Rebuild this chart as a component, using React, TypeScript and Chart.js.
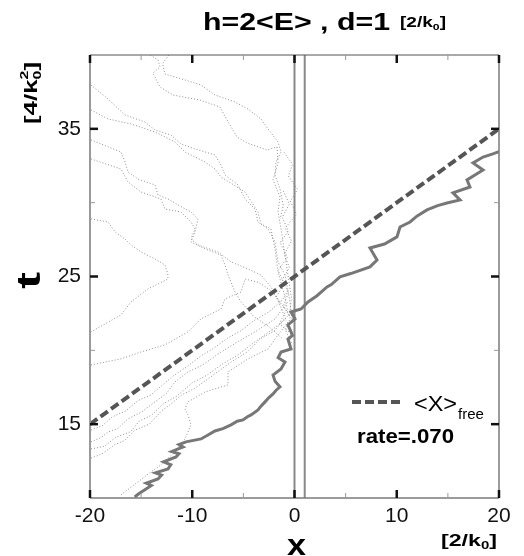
import React, { useEffect, useRef } from "react";
import { Chart, registerables } from "chart.js";

Chart.register(...registerables);

// ---------- data ----------
const xRange = [-20, 20];
const tRange = [10, 40];
const xMinorTicks = [-15, -5, 5, 15];
const tTicks = [15, 25, 35];
const tMinorTicks = [20, 30];

// free mean position <x>_free
const freeX = [-20, 20];
const freeT = [15, 35];
const rateLabel = "rate=.070";

// barrier walls, d = 1
const barrierX = [0, 1];

// mean trajectory (solid grey)
const pathX = [-15.63, -15.2, -14.52, -14.0, -14.5, -13.35, -13.0, -13.6, -12.37, -12.1, -12.8, -11.59, -11.3, -12.0, -10.9, -11.3, -10.61, -9.14, -8.46, -7.78, -7.0, -6.21, -5.6, -5.04, -4.6, -4.25, -3.57, -3.3, -2.88, -2.5, -2.1, -1.8, -1.42, -1.9, -2.1, -1.32, -0.93, -1.6, -1.32, -0.34, -0.64, -0.2, -0.34, -0.64, 0.05, -0.34, 0.64, 1.32, 2.2, 3.18, 3.6, 4.45, 5.5, 7.38, 8.07, 7.38, 8.8, 10.02, 10.32, 11.3, 12.0, 12.96, 14.0, 14.91, 16.19, 15.5, 17.16, 16.87, 18.44, 17.46, 18.44, 19.4, 20.0];
const pathT = [10.07, 10.3, 10.61, 10.85, 11.0, 11.29, 11.55, 11.7, 11.97, 12.25, 12.45, 12.78, 13.0, 13.15, 13.46, 13.62, 13.8, 14.0, 14.27, 14.54, 14.7, 14.95, 15.2, 15.29, 15.5, 15.63, 15.96, 16.2, 16.51, 16.8, 17.05, 17.3, 17.52, 17.9, 18.33, 18.74, 19.21, 19.5, 19.89, 20.09, 20.77, 21.0, 21.25, 21.72, 22.13, 22.6, 22.8, 23.28, 23.7, 24.29, 24.45, 24.97, 25.2, 25.65, 26.12, 26.93, 27.2, 27.68, 28.35, 28.69, 29.1, 29.51, 29.8, 29.98, 30.18, 30.66, 31.06, 31.54, 32.21, 32.69, 33.09, 33.3, 33.45];

// individual trajectories (dotted), [x, t]
const walkTopA = [[-14.1, 40.0], [-13.35, 39.66], [-13.15, 39.19], [-13.84, 38.78], [-13.15, 37.83], [-11.88, 37.29], [-9.24, 36.95], [-7.29, 36.48], [-6.6, 35.6], [-5.62, 34.45], [-4.65, 34.04], [-2.69, 33.57], [-1.71, 33.77], [-1.61, 32.69], [-2.1, 31.54], [-1.42, 30.39], [-1.61, 29.37], [-1.32, 28.22], [-0.93, 26.46], [-0.64, 25.1], [-0.3, 23.6], [-0.5, 22.2]];
const walkTopB = [[-12.3, 40.0], [-12.9, 39.4], [-12.67, 38.71], [-10.71, 38.31], [-9.14, 37.97], [-7.78, 37.29], [-5.82, 36.82], [-4.55, 36.34], [-3.28, 35.67], [-2.59, 34.99], [-1.61, 34.11], [-1.32, 33.43], [-1.81, 32.76], [-1.91, 31.88], [-1.42, 30.93], [-1.1, 29.8], [-1.4, 28.9]];
const walkL1 = [[-19.9, 37.97], [-18.24, 37.02], [-16.58, 35.94], [-14.62, 35.46], [-13.64, 34.92], [-12.08, 34.58], [-11.1, 33.97], [-9.73, 33.64], [-7.78, 33.23], [-7.19, 32.55], [-6.8, 31.88], [-5.53, 31.2], [-4.84, 30.25], [-3.86, 29.57], [-3.57, 28.69], [-2.59, 28.22], [-1.91, 27.34], [-1.61, 25.99], [-0.93, 25.1], [-0.5, 23.5], [-0.2, 22.0]];
const walkL2 = [[-19.9, 36.28], [-18.24, 35.67], [-15.99, 35.33], [-13.64, 34.79], [-11.69, 34.11], [-10.71, 33.43], [-8.75, 32.76], [-7.78, 32.28], [-7.19, 31.74], [-4.84, 30.72], [-3.57, 29.37], [-3.28, 28.56], [-2.3, 28.22], [-1.91, 26.87], [-1.61, 25.31], [-1.0, 23.8], [-0.6, 22.4]];
const walkL3 = [[-19.9, 34.25], [-16.97, 33.43], [-16.58, 32.76], [-16.28, 32.08], [-15.31, 31.6], [-13.64, 31.2], [-13.35, 30.52], [-12.37, 30.25], [-11.39, 29.84], [-10.12, 29.37], [-9.44, 28.9], [-9.73, 28.02], [-10.12, 27.34], [-8.75, 26.87], [-7.19, 26.46], [-6.8, 25.78], [-6.5, 25.1], [-6.21, 24.63], [-5.82, 23.95], [-5.23, 23.28], [-4.0, 22.3], [-2.5, 21.6], [-1.2, 20.8]];
const walkL4 = [[-19.9, 32.96], [-16.97, 32.28], [-16.28, 31.4], [-15.01, 30.72], [-13.06, 30.25], [-12.67, 29.57], [-11.1, 29.37], [-10.12, 28.69], [-9.73, 28.22], [-10.12, 27.54], [-9.44, 27.14], [-7.48, 26.66], [-6.21, 25.99], [-4.55, 25.51], [-3.28, 25.1], [-2.3, 24.3], [-1.5, 23.2], [-0.8, 22.0]];
const walkL5 = [[-19.9, 28.9], [-18.24, 28.69], [-17.55, 28.02], [-16.58, 27.54], [-15.99, 27.14], [-15.01, 26.66], [-13.64, 26.19], [-12.67, 25.78], [-12.4, 25.2], [-12.37, 24.83], [-14.33, 24.16], [-15.99, 23.28], [-16.97, 22.4], [-19.9, 21.25]];
const walkL6 = [[-19.9, 19.01], [-16.97, 19.42], [-15.01, 19.89], [-12.67, 20.37], [-10.42, 21.25], [-9.14, 22.13], [-7.19, 22.8], [-6.8, 23.48], [-5.23, 23.95], [-4.84, 24.83], [-3.5, 24.6], [-2.2, 24.0], [-1.3, 23.2]];
const walkB1 = [[-19.9, 13.8], [-18.9, 14.1], [-18.24, 14.47], [-17.3, 14.7], [-16.28, 15.36], [-15.0, 15.8], [-13.64, 16.51], [-12.5, 17.1], [-11.69, 17.86], [-10.42, 18.54], [-9.0, 19.0], [-7.19, 19.89], [-5.5, 20.6], [-3.86, 21.25], [-1.91, 22.13], [-0.64, 23.28]];
const walkB2 = [[-19.9, 13.32], [-18.6, 13.5], [-17.5, 14.1], [-16.0, 14.5], [-15.2, 15.2], [-14.0, 15.6], [-12.8, 16.4], [-11.5, 16.9], [-10.0, 17.8], [-8.6, 18.3], [-7.0, 19.1], [-5.5, 19.7], [-4.0, 20.5], [-2.6, 21.2], [-1.2, 21.9], [-0.3, 22.6]];
const walkB3 = [[-19.9, 14.6], [-18.8, 14.9], [-17.8, 15.5], [-16.5, 15.9], [-15.3, 16.6], [-14.0, 17.0], [-13.0, 17.6], [-11.8, 18.3], [-10.5, 18.9], [-9.2, 19.6], [-8.0, 20.1], [-6.6, 20.8], [-5.3, 21.3], [-4.0, 22.0], [-2.5, 22.6], [-1.2, 23.4], [-0.5, 24.2]];
const walkB4 = [[-19.9, 12.7], [-18.8, 13.0], [-17.6, 13.6], [-16.6, 13.9], [-15.6, 14.6], [-14.2, 15.0], [-13.0, 15.9], [-12.2, 16.3], [-11.0, 17.0], [-9.8, 17.4], [-8.6, 18.0], [-7.4, 18.6], [-6.0, 19.3], [-4.6, 19.9], [-3.3, 20.8], [-2.0, 21.3], [-0.9, 22.2]];
const walkLow = [[-16.97, 10.21], [-15.31, 11.09], [-14.03, 11.77], [-13.06, 12.24], [-11.69, 13.12], [-10.71, 14.0], [-10.12, 14.95], [-10.42, 15.63], [-10.71, 16.03], [-10.42, 16.51], [-8.75, 17.18], [-6.5, 17.66], [-6.5, 18.54], [-4.55, 19.42], [-2.59, 20.09], [-1.61, 21.04], [-0.64, 21.92]];
const walkNearA = [[-0.3, 20.5], [-0.9, 21.4], [-0.4, 22.2], [-1.1, 23.0], [-0.6, 23.9], [-1.2, 24.8], [-0.5, 25.6], [-1.0, 26.5], [-0.3, 27.4], [-0.9, 28.3], [0.2, 29.2], [-0.4, 30.1], [0.3, 30.9], [-0.6, 31.8], [-0.2, 32.6], [-1.0, 33.4]];
const walkNearB = [[-0.1, 21.0], [-1.5, 21.8], [-0.8, 22.7], [-1.8, 23.6], [-1.0, 24.5], [-1.6, 25.4], [-0.7, 26.3], [-1.4, 27.3], [-0.6, 28.1], [-1.2, 29.0], [-0.5, 29.9], [-1.1, 30.8]];

const walks = [walkTopA, walkTopB, walkL1, walkL2, walkL3, walkL4, walkL5, walkL6, walkB1, walkB2, walkB3, walkB4, walkLow, walkNearA, walkNearB];

// ---------- styles ----------
const FONT = "'Liberation Sans', Arial, Helvetica, sans-serif";
const DASH_COLOR = "#555555";
const DASH_PATTERN = [9, 4];

type Seg = { text: string; font: string; dy?: number; noAdvance?: boolean };

function segsWidth(ctx: CanvasRenderingContext2D, segs: Seg[]) {
  let w = 0;
  for (const s of segs) {
    ctx.font = s.font;
    if (!s.noAdvance) w += ctx.measureText(s.text).width;
  }
  return w;
}

function drawSegs(ctx: CanvasRenderingContext2D, segs: Seg[], x: number, y: number, target: number | null, rot = 0) {
  const w = segsWidth(ctx, segs);
  const sx = target ? target / w : 1;
  ctx.save();
  ctx.translate(x, y);
  if (rot) ctx.rotate(rot);
  ctx.scale(sx, 1);
  ctx.fillStyle = "#000";
  ctx.textBaseline = "alphabetic";
  ctx.textAlign = "left";
  let cx = 0;
  for (const s of segs) {
    ctx.font = s.font;
    ctx.fillText(s.text, cx, s.dy || 0);
    if (!s.noAdvance) cx += ctx.measureText(s.text).width;
  }
  ctx.restore();
}

function seg(ctx: CanvasRenderingContext2D, x1: number, y1: number, x2: number, y2: number, color: string, width: number) {
  ctx.beginPath();
  ctx.strokeStyle = color;
  ctx.lineWidth = width;
  ctx.moveTo(x1, y1);
  ctx.lineTo(x2, y2);
  ctx.stroke();
}

const decorPlugin = {
  id: "decor",
  afterDatasetsDraw(chart: any) {
    const { ctx, chartArea: a, scales } = chart;
    const xs = scales.x;
    const ys = scales.y;
    ctx.save();
    ctx.setLineDash([]);
    ctx.lineCap = "butt";
    // frame
    seg(ctx, a.left, a.top, a.left, a.bottom, "#9a9a9a", 2);
    seg(ctx, a.right, a.top, a.right, a.bottom, "#7a7a7a", 1.5);
    seg(ctx, a.left, a.top, a.right, a.top, "#555", 1.2);
    seg(ctx, a.left, a.bottom, a.right, a.bottom, "#7a7a7a", 1.5);
    // minor ticks
    for (const v of xMinorTicks) {
      const px = xs.getPixelForValue(v);
      seg(ctx, px, a.bottom, px, a.bottom - 5, "#999", 1);
      seg(ctx, px, a.top, px, a.top + 5, "#999", 1);
    }
    for (const v of tMinorTicks) {
      const py = ys.getPixelForValue(v);
      seg(ctx, a.left, py, a.left + 5, py, "#999", 1);
      seg(ctx, a.right, py, a.right - 5, py, "#999", 1);
    }
    // major ticks
    for (const t of xs.ticks) {
      const px = xs.getPixelForValue(t.value);
      seg(ctx, px, a.bottom, px, a.bottom - 8, "#111", 2.5);
      seg(ctx, px, a.top, px, a.top + 8, "#111", 2.5);
    }
    for (const t of ys.ticks) {
      const py = ys.getPixelForValue(t.value);
      seg(ctx, a.left, py, a.left + 8, py, "#111", 2.5);
      seg(ctx, a.right, py, a.right - 8, py, "#111", 2.5);
    }
    ctx.restore();
  },
  afterDraw(chart: any) {
    const { ctx } = chart;
    ctx.save();
    // title
    drawSegs(ctx, [{ text: "h=2<E> , d=1", font: `bold 24px ${FONT}` }], 203, 30, 187);
    drawSegs(ctx, [
      { text: "[2/k", font: `bold 14px ${FONT}` },
      { text: "0", font: `bold 9px ${FONT}`, dy: 3 },
      { text: "]", font: `bold 14px ${FONT}` },
    ], 400, 27, 46);
    // y axis title
    drawSegs(ctx, [
      { text: "[4/k", font: `bold 18px ${FONT}` },
      { text: "2", font: `bold 11px ${FONT}`, dy: -9, noAdvance: true },
      { text: "0", font: `bold 11px ${FONT}`, dy: 4 },
      { text: "]", font: `bold 18px ${FONT}` },
    ], 37, 124, 62, -Math.PI / 2);
    drawSegs(ctx, [{ text: "t", font: `bold 33px ${FONT}` }], 40, 289, 17, -Math.PI / 2);
    // x axis title
    drawSegs(ctx, [{ text: "x", font: `bold 30px ${FONT}` }], 287, 555, 19);
    drawSegs(ctx, [
      { text: "[2/k", font: `bold 17px ${FONT}` },
      { text: "0", font: `bold 11px ${FONT}`, dy: 3 },
      { text: "]", font: `bold 17px ${FONT}` },
    ], 441, 546, 56);
    // legend
    ctx.save();
    ctx.setLineDash(DASH_PATTERN);
    ctx.lineCap = "butt";
    seg(ctx, 352, 402, 401, 402, DASH_COLOR, 4);
    ctx.restore();
    drawSegs(ctx, [{ text: "<X>", font: `22px ${FONT}` }], 414, 411, 43);
    drawSegs(ctx, [{ text: "free", font: `15px ${FONT}` }], 458, 419, 26);
    drawSegs(ctx, [{ text: rateLabel, font: `bold 21px ${FONT}` }], 357, 443, 97);
    ctx.restore();
  },
};

export default function App() {
  const canvasRef = useRef<HTMLCanvasElement | null>(null);

  useEffect(() => {
    const canvas = canvasRef.current;
    if (!canvas) return;

    const dotted = walks.map((w) => ({
      data: w.map(([x, t]) => ({ x, y: t })),
      borderColor: "#8f8f8f",
      borderWidth: 1,
      borderDash: [1, 2],
      pointRadius: 0,
      showLine: true,
      fill: false,
      tension: 0,
      order: 5,
    }));

    const walls = barrierX.map((bx) => ({
      data: [{ x: bx, y: tRange[0] }, { x: bx, y: tRange[1] }],
      borderColor: "#888888",
      borderWidth: 2,
      pointRadius: 0,
      showLine: true,
      fill: false,
      order: 3,
    }));

    const chart = new Chart(canvas, {
      type: "scatter",
      data: {
        datasets: [
          {
            data: freeX.map((x, i) => ({ x, y: freeT[i] })),
            borderColor: DASH_COLOR,
            borderWidth: 4,
            borderDash: DASH_PATTERN,
            pointRadius: 0,
            showLine: true,
            fill: false,
            order: 0,
          },
          {
            data: pathX.map((x, i) => ({ x, y: pathT[i] })),
            borderColor: "#777777",
            borderWidth: 3,
            pointRadius: 0,
            showLine: true,
            fill: false,
            tension: 0,
            order: 1,
          },
          ...walls,
          ...dotted,
        ] as any,
      },
      options: {
        animation: false,
        responsive: false,
        devicePixelRatio: 1,
        events: [],
        layout: { padding: { left: 0, right: 25, top: 55, bottom: 0 } },
        plugins: { legend: { display: false }, tooltip: { enabled: false }, title: { display: false } },
        scales: {
          x: {
            type: "linear",
            position: "bottom",
            min: xRange[0],
            max: xRange[1],
            grid: { display: false, drawTicks: false },
            border: { display: false },
            ticks: {
              stepSize: 10,
              color: "#111",
              font: { family: FONT, size: 21 },
              padding: 6,
              maxRotation: 0,
              autoSkip: false,
            },
            afterFit: (scale: any) => {
              scale.height = 58;
            },
          },
          y: {
            type: "linear",
            position: "left",
            min: tRange[0],
            max: tRange[1],
            grid: { display: false, drawTicks: false },
            border: { display: false },
            ticks: {
              color: "#111",
              font: { family: FONT, size: 21 },
              padding: 9,
              autoSkip: false,
            },
            afterBuildTicks: (scale: any) => {
              scale.ticks = tTicks.map((v) => ({ value: v }));
            },
            afterFit: (scale: any) => {
              scale.width = 90;
            },
          },
        },
      } as any,
      plugins: [decorPlugin],
    });

    return () => chart.destroy();
  }, []);

  return (
    <div style={{ position: "absolute", left: 0, top: 0, width: 524, height: 556, background: "#fff" }}>
      <canvas ref={canvasRef} width={524} height={556} style={{ display: "block" }} />
    </div>
  );
}
